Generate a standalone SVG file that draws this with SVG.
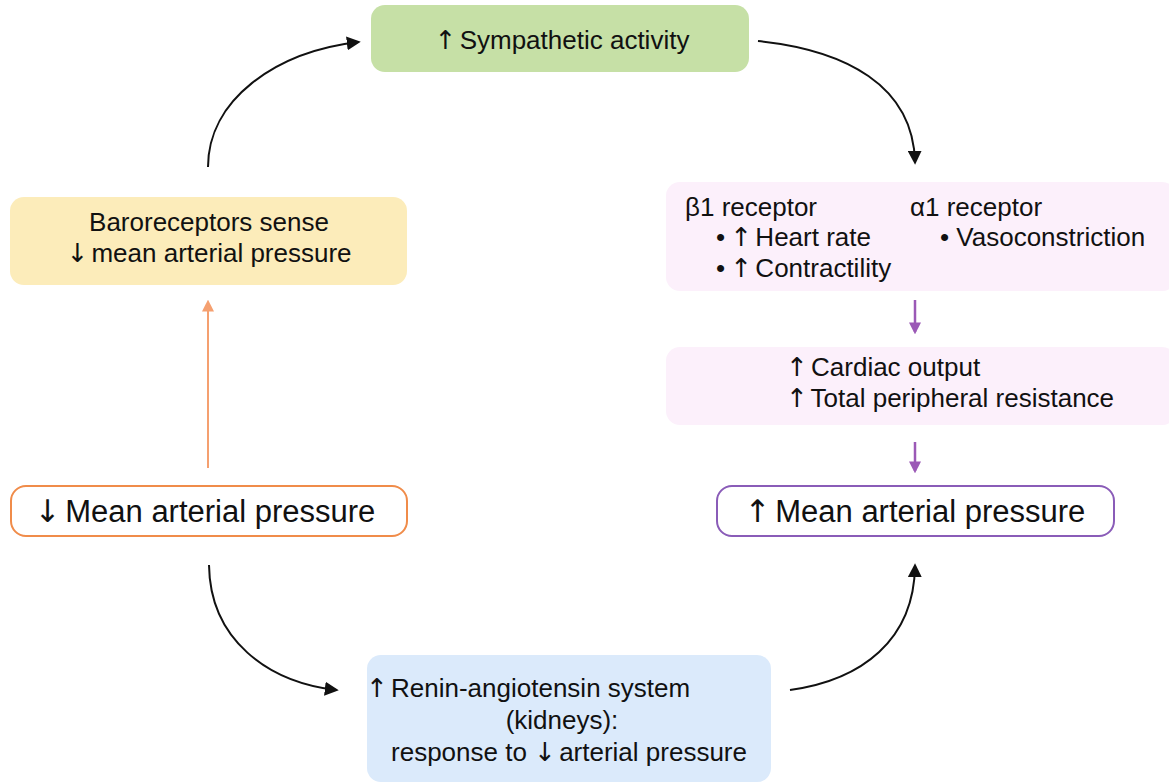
<svg xmlns="http://www.w3.org/2000/svg" width="1169" height="784" viewBox="0 0 1169 784">
<defs>
<style>
text{font-family:"Liberation Sans",Arial,"DejaVu Sans",sans-serif;fill:#111;}
.ar{font-family:"DejaVu Sans",sans-serif;letter-spacing:-4px;}
.t21{font-size:26px;}
.t26{font-size:31px;}
.c{text-anchor:middle;}
.conn{fill:none;stroke:#111;stroke-width:2;}
</style>
<marker id="ahb" viewBox="0 0 10 10" refX="8" refY="5" markerWidth="14" markerHeight="14" markerUnits="userSpaceOnUse" orient="auto"><path d="M0,0 L10,5 L0,10 z" fill="#111"/></marker>
<marker id="aho" viewBox="0 0 10 10" refX="8" refY="5" markerWidth="12" markerHeight="12" markerUnits="userSpaceOnUse" orient="auto"><path d="M0,0 L10,5 L0,10 z" fill="#f5a070"/></marker>
<marker id="ahp" viewBox="0 0 10 10" refX="8" refY="5" markerWidth="12" markerHeight="12" markerUnits="userSpaceOnUse" orient="auto"><path d="M0,0 L10,5 L0,10 z" fill="#9b59b6"/></marker>
</defs>
<rect width="1169" height="784" fill="#fff"/>
<g id="connectors">
<path class="conn" d="M208,167 C208,100 275,52 358,42" marker-end="url(#ahb)"/>
<path class="conn" d="M758,41 C845,50 913,85 915,162" marker-end="url(#ahb)"/>
<path class="conn" d="M209,565 C210,640 268,682 336,690" marker-end="url(#ahb)"/>
<path class="conn" d="M790,690 C862,680 914,640 915,566" marker-end="url(#ahb)"/>
<path fill="none" stroke="#f5a070" stroke-width="2" d="M208,468 L208,302" marker-end="url(#aho)"/>
<path fill="none" stroke="#9b59b6" stroke-width="2.5" d="M915,300 L915,332" marker-end="url(#ahp)"/>
<path fill="none" stroke="#9b59b6" stroke-width="2.5" d="M915,442 L915,471" marker-end="url(#ahp)"/>
</g>
<g id="sympathetic">
<rect x="371" y="5" width="378" height="67" rx="14" fill="#c6e0a6"/>
<text class="t21 c" x="562" y="49"><tspan class="ar">↑</tspan> Sympathetic activity</text>
</g>
<g id="baroreceptors">
<rect x="10" y="197" width="397" height="88" rx="14" fill="#fcecba"/>
<text class="t21 c" x="209" y="231">Baroreceptors sense</text>
<text class="t21 c" x="209" y="262"><tspan class="ar">↓</tspan> mean arterial pressure</text>
</g>
<g id="map-down">
<rect x="11" y="486" width="396" height="50" rx="15" fill="#fff" stroke="#f08c4a" stroke-width="2"/>
<text class="t26 c" x="205" y="522"><tspan class="ar">↓</tspan> Mean arterial pressure</text>
</g>
<g id="receptors">
<rect x="666" y="182" width="510" height="109" rx="14" fill="#fcf0fb"/>
<text class="t21" x="685" y="216">β1 receptor</text>
<text class="t21" x="716" y="246">• <tspan class="ar" dx="-2">↑</tspan> Heart rate</text>
<text class="t21" x="716" y="277">• <tspan class="ar" dx="-2">↑</tspan> Contractility</text>
<text class="t21" x="910" y="216">α1 receptor</text>
<text class="t21" x="940" y="246">• Vasoconstriction</text>
</g>
<g id="output">
<rect x="666" y="347" width="510" height="78" rx="14" fill="#fcf0fb"/>
<text class="t21" x="786" y="376"><tspan class="ar">↑</tspan> Cardiac output</text>
<text class="t21" x="786" y="407"><tspan class="ar">↑</tspan> Total peripheral resistance</text>
</g>
<g id="map-up">
<rect x="717" y="486" width="397" height="50" rx="15" fill="#fff" stroke="#8a5cb8" stroke-width="2"/>
<text class="t26 c" x="915" y="522"><tspan class="ar">↑</tspan> Mean arterial pressure</text>
</g>
<g id="raas">
<rect x="367" y="655" width="404" height="127" rx="14" fill="#dbeafb"/>
<text class="t21" x="366" y="697"><tspan class="ar">↑</tspan> Renin-angiotensin system</text>
<text class="t21 c" x="562" y="729">(kidneys):</text>
<text class="t21 c" x="569" y="761">response to <tspan class="ar">↓</tspan> arterial pressure</text>
</g>
</svg>
